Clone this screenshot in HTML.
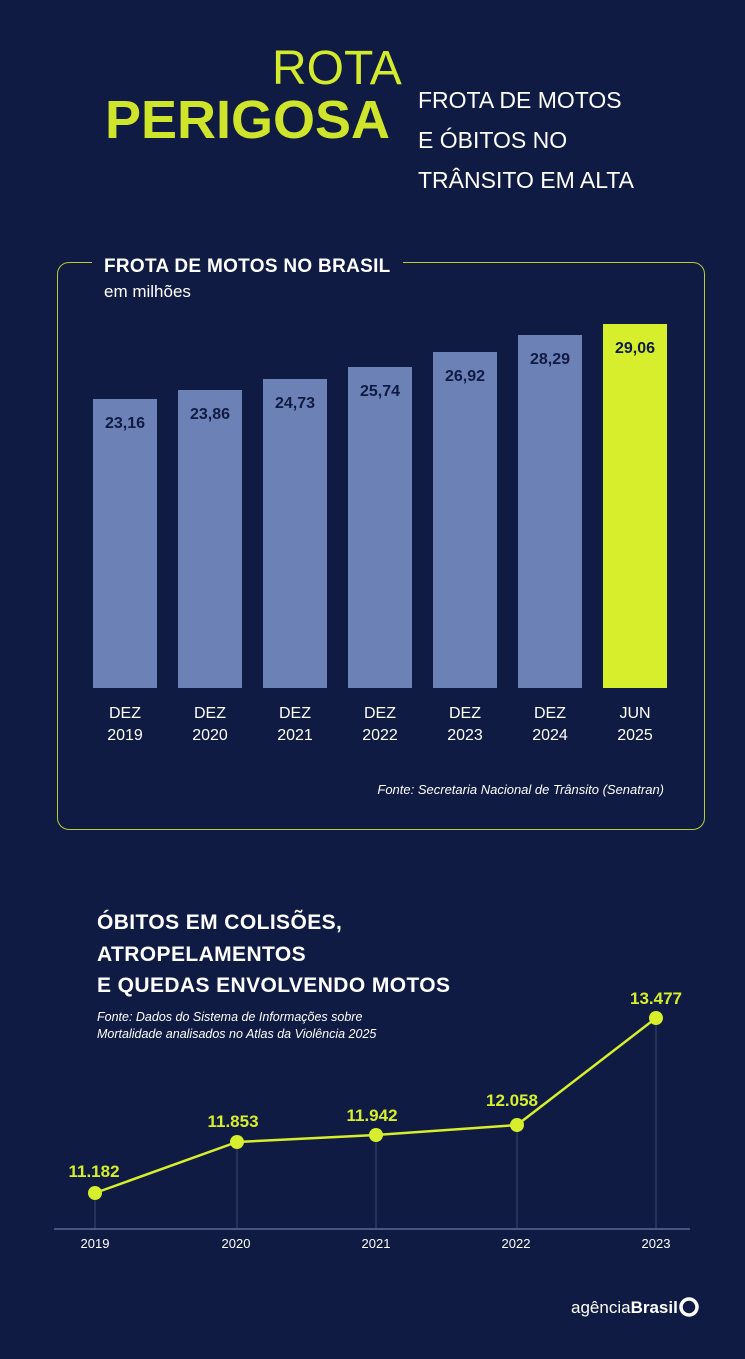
<!DOCTYPE html>
<html><head><meta charset="utf-8"><style>
body{margin:0;width:745px;height:1359px;background:#0f1b42;font-family:"Liberation Sans",sans-serif;position:relative;overflow:hidden}
.a{position:absolute;white-space:nowrap}
</style></head><body>
<div class="a" style="left:272px;top:42px;font-size:48px;color:#d4ea2c;line-height:54px">ROTA</div>
<div class="a" style="left:105px;top:90px;font-size:54px;font-weight:bold;color:#cfe52c;line-height:60px;letter-spacing:0px">PERIGOSA</div>
<div class="a" style="left:418px;top:80px;font-size:23px;color:#fff;line-height:40px">FROTA DE MOTOS<br>E ÓBITOS NO<br>TRÂNSITO EM ALTA</div>

<div class="a" style="left:57px;top:262px;width:646px;height:566px;border:1.5px solid #b8cc3a;border-radius:12px"></div>
<div class="a" style="left:92px;top:252px;padding:0 12px;background:#0f1b42;font-size:19px;font-weight:bold;color:#fff;line-height:30px;letter-spacing:0.3px">FROTA DE MOTOS NO BRASIL</div>
<div class="a" style="left:104px;top:282px;font-size:17px;color:#fff">em milhões</div>

<svg class="a" style="left:0;top:0" width="745" height="1359">
<g fill="#6c82b7">
<rect x="93" y="399" width="64" height="289"/><rect x="178" y="390" width="64" height="298"/>
<rect x="263" y="379" width="64" height="309"/><rect x="348" y="367" width="64" height="321"/>
<rect x="433" y="352" width="64" height="336"/><rect x="518" y="335" width="64" height="353"/>
</g>
<rect x="603" y="324" width="64" height="364" fill="#d6ee2c"/>
<g font-family="Liberation Sans" font-weight="bold" font-size="16" fill="#0f1b42" text-anchor="middle">
<text x="125" y="428">23,16</text><text x="210" y="419">23,86</text><text x="295" y="408">24,73</text>
<text x="380" y="396">25,74</text><text x="465" y="381">26,92</text><text x="550" y="364">28,29</text><text x="635" y="353">29,06</text>
</g>
<g font-family="Liberation Sans" font-size="16" fill="#fff" text-anchor="middle">
<text x="125" y="718">DEZ</text><text x="125" y="740">2019</text>
<text x="210" y="718">DEZ</text><text x="210" y="740">2020</text>
<text x="295" y="718">DEZ</text><text x="295" y="740">2021</text>
<text x="380" y="718">DEZ</text><text x="380" y="740">2022</text>
<text x="465" y="718">DEZ</text><text x="465" y="740">2023</text>
<text x="550" y="718">DEZ</text><text x="550" y="740">2024</text>
<text x="635" y="718">JUN</text><text x="635" y="740">2025</text>
</g>
<text x="664" y="794" text-anchor="end" font-family="Liberation Sans" font-style="italic" font-size="13" fill="#fff">Fonte:  Secretaria Nacional de Trânsito (Senatran)</text>

<text font-family="Liberation Sans" font-weight="bold" font-size="21" fill="#fff" letter-spacing="0.4"><tspan x="97" y="929">ÓBITOS EM COLISÕES,</tspan><tspan x="97" y="961">ATROPELAMENTOS</tspan><tspan x="97" y="992">E QUEDAS ENVOLVENDO MOTOS</tspan></text>
<text font-family="Liberation Sans" font-style="italic" font-size="12.5" fill="#fff"><tspan x="97" y="1021">Fonte:  Dados do Sistema de Informações sobre</tspan><tspan x="97" y="1038">Mortalidade analisados no Atlas da Violência 2025</tspan></text>

<g stroke="#3a4872" stroke-width="1">
<line x1="95" y1="1193" x2="95" y2="1229"/><line x1="237" y1="1142" x2="237" y2="1229"/>
<line x1="376" y1="1135" x2="376" y2="1229"/><line x1="517" y1="1125" x2="517" y2="1229"/>
<line x1="656" y1="1018" x2="656" y2="1229"/>
</g>
<line x1="54" y1="1229" x2="690" y2="1229" stroke="#5a6a96" stroke-width="1.5"/>
<polyline points="95,1193 237,1142 376,1135 517,1125 656,1018" fill="none" stroke="#d6ee2c" stroke-width="2.5"/>
<g fill="#d6ee2c">
<circle cx="95" cy="1193" r="7"/><circle cx="237" cy="1142" r="7"/><circle cx="376" cy="1135" r="7"/><circle cx="517" cy="1125" r="7"/><circle cx="656" cy="1018" r="7"/>
</g>
<g font-family="Liberation Sans" font-weight="bold" font-size="17" fill="#d6ee2c" text-anchor="middle">
<text x="94" y="1177">11.182</text><text x="233" y="1127">11.853</text><text x="372" y="1121">11.942</text><text x="512" y="1106">12.058</text><text x="656" y="1004">13.477</text>
</g>
<g font-family="Liberation Sans" font-size="13" fill="#fff" text-anchor="middle">
<text x="95" y="1248">2019</text><text x="236" y="1248">2020</text><text x="376" y="1248">2021</text><text x="516" y="1248">2022</text><text x="656" y="1248">2023</text>
</g>
<text x="571" y="1313" font-family="Liberation Sans" font-size="17" fill="#fff">agência<tspan font-weight="bold">Brasil</tspan></text>
<circle cx="689" cy="1307" r="8" fill="none" stroke="#fff" stroke-width="3.5"/>
</svg>
</body></html>
